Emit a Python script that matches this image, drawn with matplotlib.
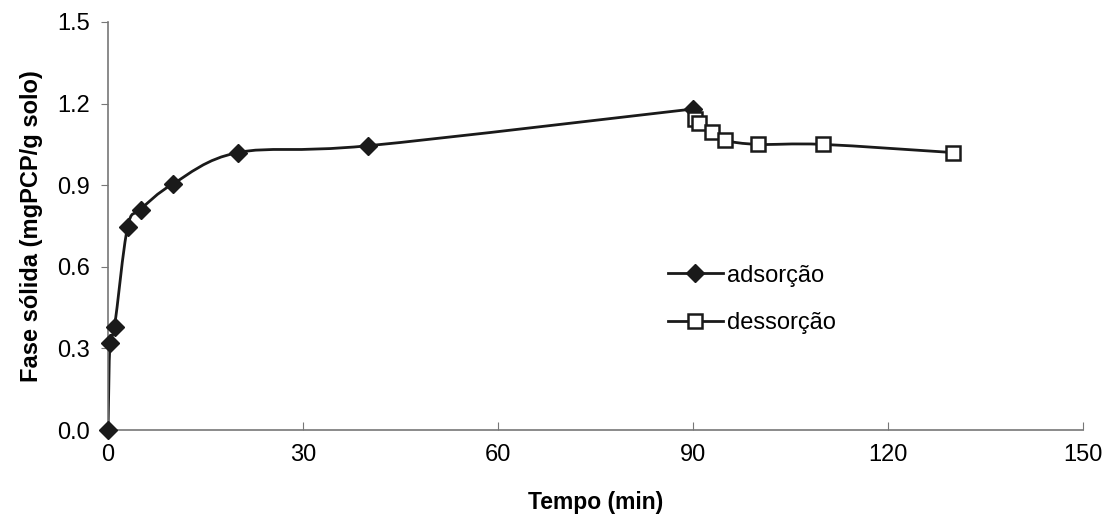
import numpy as np
import matplotlib.pyplot as plt
from matplotlib.path import Path
from matplotlib.patches import PathPatch
from matplotlib.lines import Line2D

plt.rcParams['font.family'] = ['Liberation Sans', 'DejaVu Sans']

# tempo (min) e fase sólida (mgPCP/g solo)
t_ads = [0, 0.3, 1, 3, 5, 10, 20, 40, 90]
q_ads = [0.0, 0.32, 0.38, 0.745, 0.81, 0.905, 1.02, 1.045, 1.18]

t_des = [90.3, 91, 93, 95, 100, 110, 130]
q_des = [1.145, 1.13, 1.095, 1.065, 1.05, 1.05, 1.02]

xticks = [0, 30, 60, 90, 120, 150]
yticks = [0.0, 0.3, 0.6, 0.9, 1.2, 1.5]


def smooth_path(x, y):
    # curva suavizada tipo Excel (Bezier cúbica por Catmull-Rom)
    pts = np.column_stack([x, y]).astype(float)
    verts = [pts[0]]
    codes = [Path.MOVETO]
    n = len(pts)
    for i in range(n - 1):
        p0 = pts[i - 1] if i > 0 else pts[i]
        p1 = pts[i]
        p2 = pts[i + 1]
        p3 = pts[i + 2] if i + 2 < n else pts[i + 1]
        c1 = p1 + (p2 - p0) / 6.0
        c2 = p2 - (p3 - p1) / 6.0
        verts += [c1, c2, p2]
        codes += [Path.CURVE4] * 3
    return Path(verts, codes)


fig = plt.figure(figsize=(11.07, 5.22), dpi=100)
ax = fig.add_axes([0.0976, 0.176, 0.8804, 0.782])

ax.add_patch(PathPatch(smooth_path(t_ads, q_ads), fill=False, lw=2, ec='#1a1a1a', zorder=2))
ax.add_patch(PathPatch(smooth_path(t_des, q_des), fill=False, lw=2, ec='#1a1a1a', zorder=2))

ax.plot(t_ads, q_ads, ls='none', marker='D', ms=9, mfc='#1a1a1a', mec='#1a1a1a',
        zorder=3, clip_on=False)
ax.plot(t_des, q_des, ls='none', marker='s', ms=10, mfc='white', mec='#1a1a1a', mew=1.8,
        zorder=3, clip_on=False)

ax.set_xlim(0, 150)
ax.set_ylim(0, 1.5)
ax.set_xticks(xticks)
ax.set_yticks(yticks)
ax.set_yticklabels(['%.1f' % v for v in yticks])
ax.tick_params(axis='x', direction='in', length=6, color='#777777', labelsize=17, pad=10)
ax.tick_params(axis='y', direction='out', length=5, color='#777777', labelsize=17, pad=8)
for s in ['top', 'right']:
    ax.spines[s].set_visible(False)
for s in ['left', 'bottom']:
    ax.spines[s].set_color('#777777')
    ax.spines[s].set_linewidth(1.2)

ax.set_xlabel('Tempo (min)', fontsize=16.5, fontweight='bold', labelpad=18)
ax.set_ylabel('Fase sólida (mgPCP/g solo)', fontsize=17, fontweight='bold', labelpad=10)

handles = [
    Line2D([], [], color='#1a1a1a', lw=2, marker='D', ms=9, mfc='#1a1a1a'),
    Line2D([], [], color='#1a1a1a', lw=2, marker='s', ms=10, mfc='white', mew=1.8),
]
ax.legend(handles, ['adsorção', 'dessorção'], loc='center left',
          bbox_to_anchor=(0.553, 0.32), frameon=False, fontsize=17,
          handlelength=2.3, handletextpad=0.2, labelspacing=1.1)

fig.savefig('out.png', dpi=100)
